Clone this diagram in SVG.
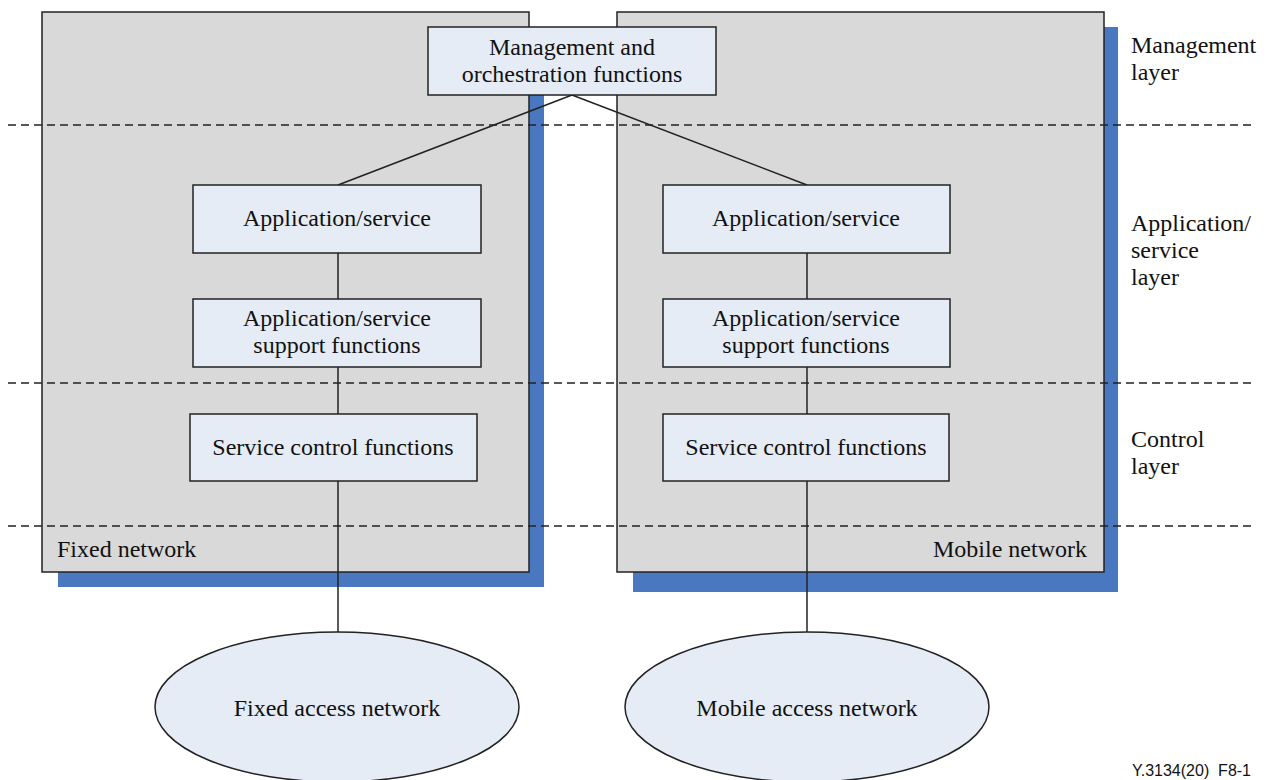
<svg xmlns="http://www.w3.org/2000/svg" width="1266" height="780" viewBox="0 0 1266 780">
  <style>
    .panel { fill: #d9d9d9; stroke: #222; stroke-width: 1.5; }
    .shadow { fill: #4a78c0; }
    .box { fill: #e6ecf6; stroke: #222; stroke-width: 1.5; }
    .line { stroke: #222; stroke-width: 1.5; fill: none; }
    .dash { stroke: #222; stroke-width: 1.3; stroke-dasharray: 8 5; fill: none; }
    .t { font-family: "Liberation Serif", "Times New Roman", serif; font-size: 24px; fill: #111; }
    .c { text-anchor: middle; }
    .code { font-family: "Liberation Sans", Arial, sans-serif; font-size: 16px; fill: #111; text-anchor: end; white-space: pre; }
  </style>

  <!-- network panels with drop shadows -->
  <g id="fixed-network">
    <rect class="shadow" x="58" y="27" width="486" height="560"/>
    <rect class="panel" x="42" y="12" width="487" height="560"/>
    <text class="t" x="57" y="557">Fixed network</text>
  </g>
  <g id="mobile-network">
    <rect class="shadow" x="633" y="27" width="485" height="565"/>
    <rect class="panel" x="617" y="12" width="487" height="560"/>
    <text class="t" x="1087" y="557" text-anchor="end">Mobile network</text>
  </g>

  <!-- layer separators -->
  <g id="layer-lines">
    <line class="dash" x1="8" y1="125" x2="1252" y2="125"/>
    <line class="dash" x1="8" y1="383" x2="1252" y2="383"/>
    <line class="dash" x1="8" y1="526" x2="1252" y2="526"/>
  </g>

  <!-- connectors -->
  <g id="connectors">
    <line class="line" x1="572" y1="95" x2="338" y2="185"/>
    <line class="line" x1="572" y1="95" x2="807" y2="185"/>
    <line class="line" x1="338" y1="253" x2="338" y2="299"/>
    <line class="line" x1="338" y1="367" x2="338" y2="414"/>
    <line class="line" x1="338" y1="481" x2="338" y2="632"/>
    <line class="line" x1="807" y1="253" x2="807" y2="299"/>
    <line class="line" x1="807" y1="367" x2="807" y2="414"/>
    <line class="line" x1="807" y1="481" x2="807" y2="632"/>
  </g>

  <g id="mgmt">
    <rect class="box" x="428" y="27" width="288" height="68"/>
    <text class="t c" x="572" y="55">Management and</text>
    <text class="t c" x="572" y="82">orchestration functions</text>
  </g>

  <g id="fixed-app">
    <rect class="box" x="193" y="185" width="288" height="68"/>
    <text class="t c" x="337" y="226">Application/service</text>
  </g>
  <g id="fixed-support">
    <rect class="box" x="193" y="299" width="288" height="68"/>
    <text class="t c" x="337" y="326">Application/service</text>
    <text class="t c" x="337" y="353">support functions</text>
  </g>
  <g id="fixed-control">
    <rect class="box" x="190" y="414" width="287" height="67"/>
    <text class="t c" x="333" y="455">Service control functions</text>
  </g>

  <g id="mobile-app">
    <rect class="box" x="663" y="185" width="287" height="68"/>
    <text class="t c" x="806" y="226">Application/service</text>
  </g>
  <g id="mobile-support">
    <rect class="box" x="663" y="299" width="287" height="68"/>
    <text class="t c" x="806" y="326">Application/service</text>
    <text class="t c" x="806" y="353">support functions</text>
  </g>
  <g id="mobile-control">
    <rect class="box" x="663" y="414" width="286" height="67"/>
    <text class="t c" x="806" y="455">Service control functions</text>
  </g>

  <g id="fixed-access">
    <ellipse class="box" cx="337" cy="707" rx="182" ry="75"/>
    <text class="t c" x="337" y="716">Fixed access network</text>
  </g>
  <g id="mobile-access">
    <ellipse class="box" cx="807" cy="707" rx="182" ry="75"/>
    <text class="t c" x="807" y="716">Mobile access network</text>
  </g>

  <!-- layer names -->
  <g id="layer-labels">
    <text class="t" x="1131" y="53">Management</text>
    <text class="t" x="1131" y="80">layer</text>
    <text class="t" x="1131" y="231">Application/</text>
    <text class="t" x="1131" y="258">service</text>
    <text class="t" x="1131" y="285">layer</text>
    <text class="t" x="1131" y="447">Control</text>
    <text class="t" x="1131" y="474">layer</text>
  </g>

  <text class="code" x="1251" y="776" xml:space="preserve">Y.3134(20)  F8-1</text>
</svg>
